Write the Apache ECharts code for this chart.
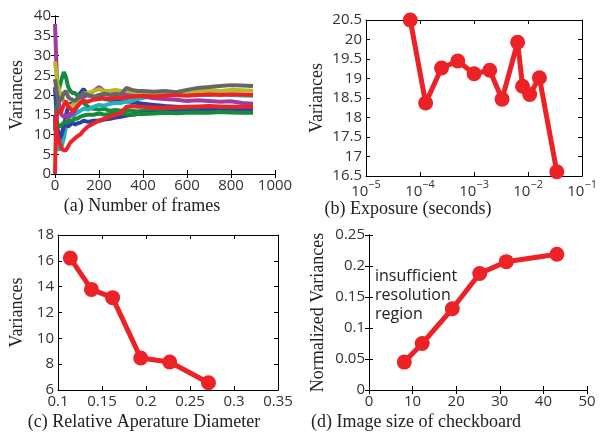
<!DOCTYPE html>
<html>
<head>
<meta charset="utf-8">
<script src="https://cdn.jsdelivr.net/npm/echarts@6/dist/echarts.min.js"></script>
<style>
  html, body { margin: 0; padding: 0; background: #fff; }
  #chart { width: 600px; height: 432px; }
</style>
</head>
<body>
<div id="chart"></div>
<script>
// (a) variances against number of frames
var frames = [0, 5, 10, 20, 30, 40, 50, 60, 70, 80, 90, 100, 115, 130, 150, 175, 200, 225, 250, 275,
              300, 325, 350, 375, 400, 450, 500, 550, 600, 650, 700, 750, 800, 850, 900];
var blueA   = [22, 17, 12, 9, 10, 12, 15, 17, 18, 17.5, 18, 19, 20.5, 21.5, 20, 19.5, 19.5, 19, 18.8, 18.5,
               18.3, 18.5, 18.2, 18, 17.8, 17.5, 17.2, 17, 16.8, 16.7, 16.8, 16.6, 16.5, 16.5, 16.4];
var greenA  = [11, 14, 18, 22, 24, 25.8, 24.5, 22, 21, 20.5, 20.5, 20, 19.5, 18, 17, 16.5, 16.3, 16.5, 16, 16.2,
               16, 16.2, 16, 15.8, 16, 16, 16.2, 16, 16, 16.1, 16, 16.1, 16, 16, 15.9];
var cyan    = [14, 9, 7, 6, 7, 9, 12, 14.5, 15, 14.5, 15, 15.5, 16, 16.5, 16.3, 17, 17.5, 17.3, 17.8, 18,
               18, 18.3, 18.5, 19, 19.3, 19.8, 20, 20.2, 20, 20, 20, 20.2, 20, 19.9, 19.8];
var magenta = [38, 30, 22, 17, 15, 14.5, 15, 14, 15.5, 15, 16, 17, 18, 19.5, 20, 21, 22, 21, 20.5, 20.3,
               20.5, 20, 20.2, 19.8, 19.6, 19.2, 19, 18.8, 18.5, 18.7, 18.5, 18.3, 18.4, 18, 17.8];
var yellow  = [28.5, 26, 23, 21, 19.5, 18.5, 18, 17.5, 17, 17.5, 18, 18.5, 19.5, 20.5, 20.5, 21, 21.5, 21, 21, 21.3,
               21, 21, 20.8, 20.6, 20.8, 20.5, 20.3, 20.5, 20.8, 21, 21.2, 21, 21.3, 21.2, 21.1];
var gray    = [24, 22, 20, 18.5, 19, 20.5, 21, 19.5, 19, 18.8, 18.5, 19, 19.5, 20.5, 20, 19.5, 20, 20.3, 20, 19.8,
               20.2, 21.8, 21.3, 21, 21, 20.8, 21, 20.7, 21.3, 21.8, 22, 22.3, 22.5, 22.4, 22.3];
var blueB   = [15, 10, 8, 8.5, 10, 12, 12.5, 12, 12.5, 13, 12.5, 12.8, 13, 13.5, 13.2, 13.5, 13.5, 13.8, 14, 14.3,
               14.5, 14.8, 15, 15.2, 15.4, 15.5, 15.6, 15.8, 15.8, 15.9, 16, 16, 15.9, 16, 16];
var greenB  = [12, 13, 12.5, 12, 12.5, 13, 13, 13.3, 13.5, 13.5, 14, 14, 14.5, 14.8, 15, 15, 15.3, 15, 15.2, 15.5,
               15.3, 15.2, 15, 15.2, 15.2, 15.3, 15.5, 15.4, 15.5, 15.6, 15.5, 15.7, 15.6, 15.5, 15.5];
var redB    = [14, 12, 10, 8, 6.5, 6, 6, 7, 8, 8.5, 9, 9.5, 10, 11, 12, 12.8, 13.5, 14, 14.5, 15,
               15.5, 17, 17.2, 17, 17, 16.8, 16.8, 16.9, 17, 17.1, 17.2, 17.1, 17, 17, 17];
var redA    = [0, 14, 16, 15.5, 16, 17.5, 18.5, 17, 16.5, 16, 16.5, 17, 18, 18.5, 18.3, 18.8, 19, 19.2, 19, 19.3,
               19.2, 19.5, 19.5, 19.7, 19.8, 19.6, 19.8, 20, 19.8, 20, 20.2, 20, 20.2, 20.1, 20];

// (b) exposure
var exposure = [6.6e-5, 1.27e-4, 2.5e-4, 5e-4, 1e-3, 1.95e-3, 3.3e-3, 6.4e-3, 7.9e-3, 1.07e-2, 1.62e-2, 3.4e-2];
var expVariance = [20.5, 18.37, 19.27, 19.45, 19.12, 19.21, 18.47, 19.93, 18.8, 18.59, 19.02, 16.61];

// (c) aperture
var aperture = [0.114, 0.138, 0.162, 0.194, 0.227, 0.271];
var apVariance = [16.21, 13.79, 13.15, 8.48, 8.17, 6.56];

// (d) checkboard size
var boardSize = [8.1, 12.2, 19.1, 25.4, 31.5, 43.1];
var normVariance = [0.045, 0.075, 0.131, 0.188, 0.207, 0.219];

var myChart = echarts.init(document.getElementById('chart'));

var sansFont = 'Open Sans';
var serifFont = 'Liberation Serif';
var red = '#ec2227';

function pairs(xs, ys) {
    return xs.map(function(x, i) { return [x, ys[i]]; });
}

function plain(v) { return String(+v.toFixed(4)); }

// caption is centred on the whole panel, so push it left with right padding
function makeX(grid, min, max, interval, name, shift, type) {
    var ax = {
        type: type || 'value', gridIndex: grid, min: min, max: max,
        name: name, nameLocation: 'middle', nameGap: 23,
        nameTextStyle: { fontFamily: serifFont, fontSize: 18, color: '#222', padding: [0, shift * 2, 0, 0] },
        axisLine: { show: true, lineStyle: { color: '#000', width: 1 } },
        axisTick: { show: true, inside: true, length: 4, lineStyle: { color: '#000' } },
        axisLabel: { fontFamily: sansFont, fontSize: 15, color: '#333', margin: 4, formatter: plain },
        splitLine: { show: false }
    };
    if (interval) ax.interval = interval;
    return ax;
}

function makeTop(grid, min, max, interval, type) {
    var ax = {
        type: type || 'value', gridIndex: grid, position: 'top', min: min, max: max,
        axisLine: { show: true, lineStyle: { color: '#000', width: 1 } },
        axisTick: { show: true, inside: true, length: 4, lineStyle: { color: '#000' } },
        axisLabel: { show: false }, splitLine: { show: false }
    };
    if (interval) ax.interval = interval;
    return ax;
}

function makeY(grid, min, max, interval, name, nameGap) {
    return {
        type: 'value', gridIndex: grid, min: min, max: max, interval: interval,
        name: name, nameLocation: 'middle', nameGap: nameGap, nameRotate: 90,
        nameTextStyle: { fontFamily: serifFont, fontSize: 18, color: '#222' },
        axisLine: { show: true, lineStyle: { color: '#000', width: 1 } },
        axisTick: { show: true, inside: true, length: 4, lineStyle: { color: '#000' } },
        axisLabel: { fontFamily: sansFont, fontSize: 15, color: '#333', margin: 4, formatter: plain },
        splitLine: { show: false }
    };
}

function makeRight(grid, min, max, interval) {
    return {
        type: 'value', gridIndex: grid, position: 'right', min: min, max: max, interval: interval,
        axisLine: { show: true, lineStyle: { color: '#000', width: 1 } },
        axisTick: { show: true, inside: true, length: 4, lineStyle: { color: '#000' } },
        axisLabel: { show: false }, splitLine: { show: false }
    };
}

var expX = makeX(1, 1e-5, 1e-1, null, '(b) Exposure (seconds)', 66, 'log');
expX.logBase = 10;
expX.nameGap = 24;
expX.axisLabel.margin = 3;
expX.axisLabel.formatter = function(v) {
    var e = Math.round(Math.log10(v));
    return '{b|10}{s|' + (e < 0 ? '\u2212' : '') + Math.abs(e) + '}';
};
expX.axisLabel.rich = {
    b: { fontFamily: sansFont, fontSize: 15, color: '#333', verticalAlign: 'bottom', lineHeight: 20 },
    s: { fontFamily: sansFont, fontSize: 11, color: '#333', verticalAlign: 'top', lineHeight: 12 }
};
var expTop = makeTop(1, 1e-5, 1e-1, null, 'log');
expTop.logBase = 10;

var frameColors = ['#2f3fa8', '#178a3c', '#1fb5b5', '#a03ca0', '#b8b826', '#666666', '#2f3fa8', '#178a3c', red, red];
var frameSeries = [blueA, greenA, cyan, magenta, yellow, gray, blueB, greenB, redB, redA];

var series = frameSeries.map(function(vals, i) {
    return {
        type: 'line', xAxisIndex: 0, yAxisIndex: 0, data: pairs(frames, vals),
        showSymbol: false, symbol: 'none', animation: false,
        lineStyle: { color: frameColors[i], width: 4 }
    };
});

function redSeries(grid, xs, ys) {
    return {
        type: 'line', xAxisIndex: grid * 2, yAxisIndex: grid * 2, data: pairs(xs, ys),
        symbol: 'circle', symbolSize: 15, animation: false,
        itemStyle: { color: red },
        lineStyle: { color: red, width: 5 }
    };
}
series.push(redSeries(1, exposure, expVariance));
series.push(redSeries(2, aperture, apVariance));
series.push(redSeries(3, boardSize, normVariance));

var option = {
    backgroundColor: '#fff',
    animation: false,
    grid: [
        { left: 55, top: 16, width: 220, height: 158 },
        { left: 366, top: 20, width: 221, height: 156 },
        { left: 58, top: 235, width: 220, height: 157 },
        { left: 369, top: 235, width: 218, height: 157 }
    ],
    xAxis: [
        makeX(0, 0, 1000, 200, '(a) Number of frames', 23),
        makeTop(0, 0, 1000, 200),
        expX,
        expTop,
        makeX(2, 0.1, 0.35, 0.05, '(c) Relative Aperature Diameter', 24),
        makeTop(2, 0.1, 0.35, 0.05),
        makeX(3, 0, 50, 10, '(d) Image size of checkboard', 62),
        makeTop(3, 0, 50, 10)
    ],
    yAxis: [
        makeY(0, 0, 40, 5, 'Variances', 29),
        makeRight(0, 0, 40, 5),
        makeY(1, 16.5, 20.5, 0.5, 'Variances', 40),
        makeRight(1, 16.5, 20.5, 0.5),
        makeY(2, 6, 18, 2, 'Variances', 32),
        makeRight(2, 6, 18, 2),
        makeY(3, 0, 0.25, 0.05, 'Normalized Variances', 42),
        makeRight(3, 0, 0.25, 0.05)
    ],
    graphic: [
        {
            type: 'text', left: 375, top: 267,
            style: {
                text: 'insufficient\nresolution\nregion',
                fontFamily: sansFont, fontSize: 16, lineHeight: 19, fill: '#222'
            }
        }
    ],
    series: series
};

myChart.setOption(option);
</script>
</body>
</html>
